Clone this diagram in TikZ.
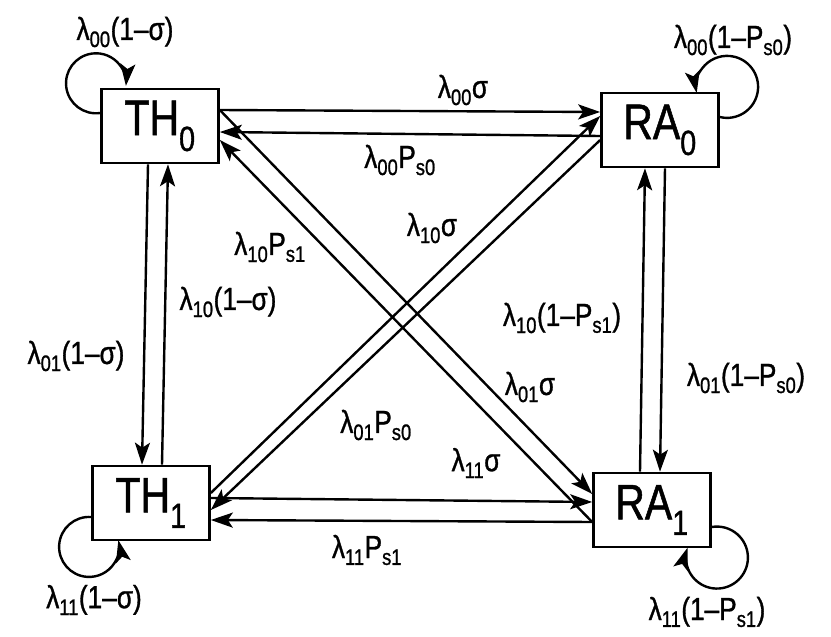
\documentclass[tikz,border=0pt]{standalone}
\usepackage{fontspec}
\setmainfont{Liberation Sans}[FakeStretch=0.82, FakeBold=1]
\usetikzlibrary{arrows.meta}
\newcommand{\lam}[1]{λ\textsubscript{#1}}
\newcommand{\Ps}[1]{P\textsubscript{s#1}}

\begin{document}
\begin{tikzpicture}[x=1pt, y=-1pt,
    state/.style={draw, line width=2.6pt, minimum width=117pt, minimum height=74pt,
      inner sep=0pt, font=\fontsize{50}{54}\selectfont},
    rate/.style={font=\fontsize{32}{36}\selectfont, inner sep=1pt},
    trans/.style={line width=2.4pt, -{Stealth[length=22pt, width=15pt, inset=5pt]}}]
    \useasboundingbox (0,0) rectangle (831,637);
    % states
    \node[state] (TH0) at (160,126) {TH\textsubscript{0}};
    \node[state] (RA0) at (660,130) {RA\textsubscript{0}};
    \node[state] (TH1) at (151,503) {TH\textsubscript{1}};
    \node[state] (RA1) at (652,510) {RA\textsubscript{1}};
    % horizontal transitions
    \draw[trans] ([yshift=16pt]TH0.east) -- ([yshift=18pt]RA0.west);
    \draw[trans] ([yshift=-6pt]RA0.west) -- ([yshift=-6pt]TH0.east);
    \draw[trans] ([yshift=5pt]TH1.east) -- ([yshift=8pt]RA1.west);
    \draw[trans] ([yshift=-12pt]RA1.west) -- ([yshift=-17pt]TH1.east);
    % vertical transitions
    \draw[trans] ([xshift=-12pt]TH0.south) -- ([xshift=-9pt]TH1.north);
    \draw[trans] ([xshift=11pt]TH1.north) -- ([xshift=8pt]TH0.south);
    \draw[trans] ([xshift=-12pt]RA1.north) -- ([xshift=-15pt]RA0.south);
    \draw[trans] ([xshift=5pt]RA0.south) -- ([xshift=8pt]RA1.north);
    % diagonal transitions
    \draw[trans] ([yshift=16pt]TH0.east) -- ([yshift=16pt]RA1.west);
    \draw[trans] ([yshift=-12pt]RA1.west) -- ([yshift=-14pt]TH0.east);
    \draw[trans] ([yshift=10pt]TH1.east) -- ([yshift=14pt]RA0.west);
    \draw[trans] ([yshift=-10pt]RA0.west) -- ([yshift=-7pt]TH1.east);
    % self loops
    \draw[trans] ([yshift=13pt]TH0.west) arc[start angle=82, end angle=365, radius=30];
    \draw[trans] ([yshift=13pt]RA0.east) arc[start angle=103.6, end angle=-191.3, radius=31];
    \draw[trans] ([yshift=-14pt]TH1.west) arc[start angle=-86, end angle=-373, radius=30];
    \draw[trans] ([yshift=-17pt]RA1.east) arc[start angle=-99.5, end angle=198.4, radius=31];
    % rates
    \node[rate] (r00a) at (125,32) {\lam{00}(1–σ)};
    \node[rate] (r00b) at (733,40) {\lam{00}(1–\Ps{0})};
    \node[rate] (r11a) at (94,600) {\lam{11}(1–σ)};
    \node[rate] (r11b) at (707,612) {\lam{11}(1–\Ps{1})};
    \node[rate] (r00s) at (463,90) {\lam{00}σ};
    \node[rate] (r00p) at (400,160) {\lam{00}\Ps{0}};
    \node[rate] (r10s) at (432,228) {\lam{10}σ};
    \node[rate] (r10p) at (270,247) {\lam{10}\Ps{1}};
    \node[rate] (r10a) at (228,302) {\lam{10}(1–σ)};
    \node[rate] (r01a) at (76,356) {\lam{01}(1–σ)};
    \node[rate] (r10b) at (562,318) {\lam{10}(1–\Ps{1})};
    \node[rate] (r01b) at (746,378) {\lam{01}(1–\Ps{0})};
    \node[rate] (r01s) at (530,387) {\lam{01}σ};
    \node[rate] (r01p) at (376,425) {\lam{01}\Ps{0}};
    \node[rate] (r11s) at (476,463) {\lam{11}σ};
    \node[rate] (r11p) at (367,550) {\lam{11}\Ps{1}};
\end{tikzpicture}
\end{document}
